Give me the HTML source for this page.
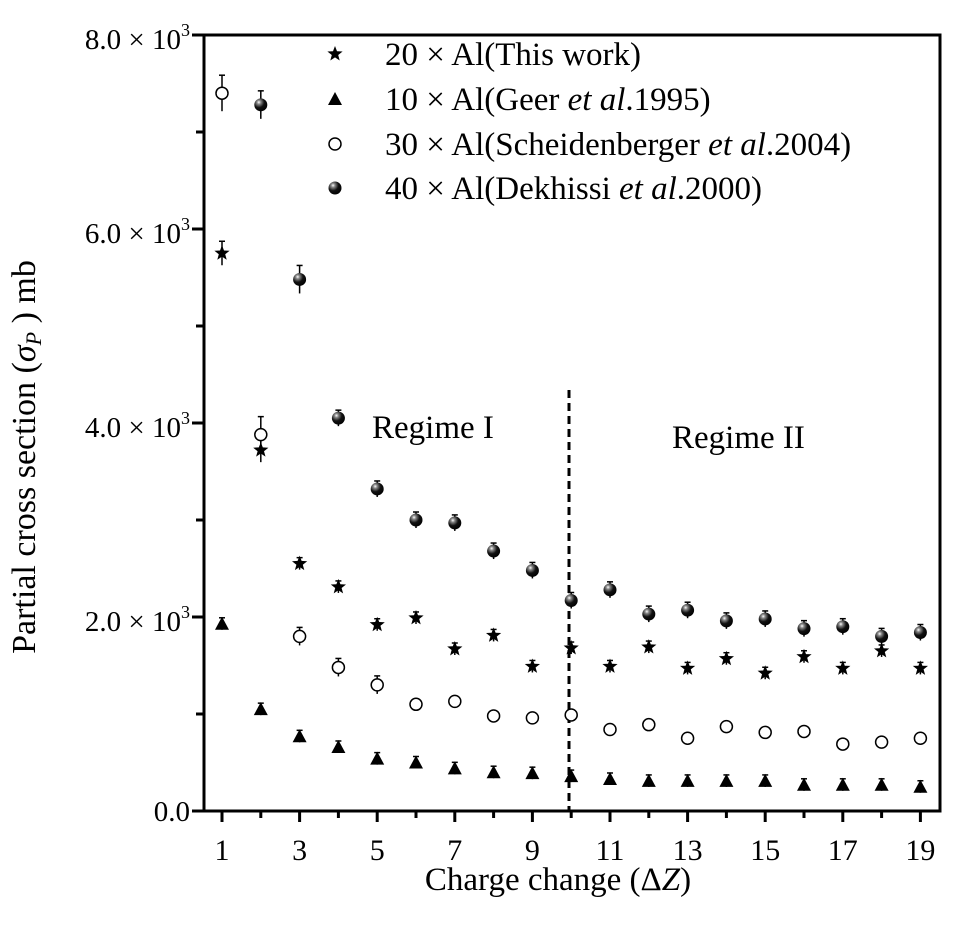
<!DOCTYPE html>
<html><head><meta charset="utf-8"><style>
body{margin:0;background:#fff}
svg{display:block;font-family:"Liberation Serif",serif}
</style></head><body>
<svg id="s" width="953" height="936" viewBox="0 0 953 936" xmlns="http://www.w3.org/2000/svg">
<defs>
<radialGradient id="g" cx="0.35" cy="0.3" r="0.75"><stop offset="0" stop-color="#fff"/><stop offset="0.2" stop-color="#888"/><stop offset="0.55" stop-color="#111"/><stop offset="1" stop-color="#000"/></radialGradient>
</defs>
<rect x="204" y="35" width="736" height="776" fill="none" stroke="#000" stroke-width="3"/>
<g id="ax" stroke="#000" stroke-width="3"></g>
<g font-size="29" text-anchor="end">
<text x="190" y="49">8.0 × 10<tspan font-size="18" dy="-13">3</tspan></text>
<text x="190" y="243">6.0 × 10<tspan font-size="18" dy="-13">3</tspan></text>
<text x="190" y="437">4.0 × 10<tspan font-size="18" dy="-13">3</tspan></text>
<text x="190" y="631">2.0 × 10<tspan font-size="18" dy="-13">3</tspan></text>
<text x="190" y="821">0.0</text>
</g>
<g font-size="30" text-anchor="middle" id="xl"></g>
<text x="558" y="890" font-size="33" text-anchor="middle">Charge change (Δ<tspan font-style="italic">Z</tspan>)</text>
<text transform="translate(35,457) rotate(-90)" font-size="34" text-anchor="middle">Partial cross section (<tspan font-style="italic">σ</tspan><tspan font-style="italic" font-size="22" dy="6">P</tspan><tspan dy="-6"> ) mb</tspan></text>
<line x1="569" y1="390" x2="569" y2="811" stroke="#000" stroke-width="3" stroke-dasharray="8,5"/>
<text x="372" y="438" font-size="33">Regime I</text>
<text x="672" y="448" font-size="33">Regime II</text>
<g font-size="33">
<text x="385" y="65">20 × Al(This work)</text>
<text x="385" y="110">10 × Al(Geer <tspan font-style="italic">et al</tspan>.1995)</text>
<text x="385" y="155">30 × Al(Scheidenberger <tspan font-style="italic">et al</tspan>.2004)</text>
<text x="385" y="199">40 × Al(Dekhissi <tspan font-style="italic">et al</tspan>.2000)</text>
</g>
<g id="d"></g>
</svg>
<script>
var NS="http://www.w3.org/2000/svg";
function el(p,t,a){var e=document.createElementNS(NS,t);for(var k in a)e.setAttribute(k,a[k]);p.appendChild(e);return e;}
var ax=document.getElementById('ax'),xl=document.getElementById('xl'),d=document.getElementById('d');
function X(i){return 222+(i-1)*38.8;}
function Y(v){return 811-0.097*v;}
for(var i=1;i<=19;i++){el(ax,'line',{x1:X(i),y1:811,x2:X(i),y2:i%2?822:818});
 if(i%2){var t=el(xl,'text',{x:X(i),y:860});t.textContent=i;}}
for(var v=0;v<=8000;v+=1000){el(ax,'line',{x1:204,y1:Y(v),x2:v%2000?196:192,y2:Y(v)});}
var star=[5750,3720,2550,2310,1920,1990,1670,1810,1490,1680,1490,1690,1470,1570,1420,1590,1470,1650,1470];
var tri=[1930,1050,770,660,540,500,440,400,390,360,330,310,310,310,310,270,270,270,250];
var circ=[7400,3880,1800,1480,1300,1100,1130,980,960,990,840,890,750,870,810,820,690,710,750];
var ball=[null,7280,5480,4050,3320,3000,2970,2680,2480,2170,2280,2030,2070,1960,1980,1880,1900,1800,1840];
function starP(x,y,r){var p=[];for(var k=0;k<10;k++){var a=-Math.PI/2+k*Math.PI/5,rr=k%2?r*0.42:r;p.push((x+rr*Math.cos(a)).toFixed(1)+','+(y+rr*Math.sin(a)).toFixed(1));}return p.join(' ');}
function eb(x,y,e){el(d,'line',{x1:x,y1:y-e,x2:x,y2:y+e,stroke:'#000','stroke-width':1.5});el(d,'line',{x1:x-3,y1:y-e,x2:x+3,y2:y-e,stroke:'#000','stroke-width':1.5});}
function mStar(x,y){el(d,'polygon',{points:starP(x,y,8),fill:'#000'});}
function mTri(x,y){el(d,'polygon',{points:(x-7)+','+(y+6)+' '+(x+7)+','+(y+6)+' '+x+','+(y-7),fill:'#000'});}
function mCirc(x,y){el(d,'circle',{cx:x,cy:y,r:6,fill:'#fff',stroke:'#000','stroke-width':1.5});}
function mBall(x,y){el(d,'circle',{cx:x,cy:y,r:6.5,fill:'url(#g)'});}
for(var i=0;i<19;i++){var x=X(i+1);
 var y=Y(star[i]);eb(x,y,i<2?12:6);mStar(x,y);
 y=Y(tri[i]);eb(x,y,6);mTri(x,y);
 y=Y(circ[i]);eb(x,y,i<2?18:i<5?9:5);mCirc(x,y);
 if(ball[i]){y=Y(ball[i]);eb(x,y,i<3?14:8);mBall(x,y);}
}
mStar(335,54);mTri(335,99);mCirc(335,144);mBall(335,188);
</script>
</body></html>
